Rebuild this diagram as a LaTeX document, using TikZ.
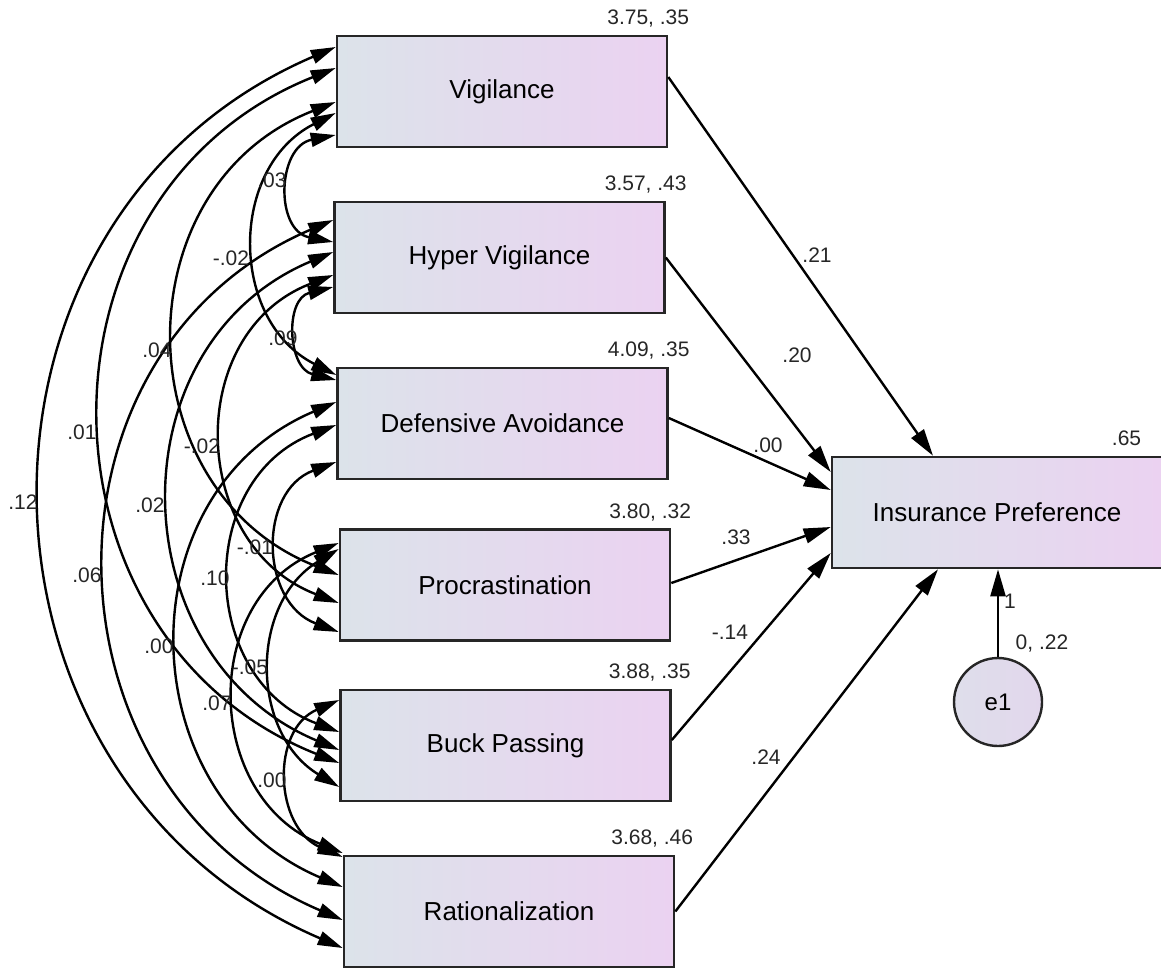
\documentclass[tikz,border=0pt]{standalone}
\usepackage{fontspec}
\setmainfont{Liberation Sans}
\usepackage{tikz}
\usetikzlibrary{arrows.meta}
\definecolor{boxleft}{HTML}{DCE3EA}
\definecolor{boxright}{HTML}{EBD2F1}
\definecolor{errfill}{HTML}{E2D7EC}

\tikzset{
  var/.style={draw=black!85, line width=2.6pt, minimum width=330pt, minimum height=111pt,
    inner sep=0pt, left color=boxleft, right color=boxright, font=\fontsize{26}{30}\selectfont},
  err/.style={circle, draw=black!85, line width=2.4pt, minimum size=88pt, inner sep=0pt,
    left color=boxleft!60!errfill, right color=errfill, font=\fontsize{24}{28}\selectfont},
  num/.style={inner sep=0pt, font=\fontsize{21}{24}\selectfont, text=black!85},
  regline/.style={line width=2.4pt, -{Triangle[length=27pt,width=15pt]}},
  cov/.style={line width=2.4pt, {Triangle[length=25pt,width=14pt]}-{Triangle[length=25pt,width=14pt]}},
}

\begin{document}
\begin{tikzpicture}[x=1pt, y=-1pt]
  \useasboundingbox (0,0) rectangle (1161,967);

  % Observed variables
  \node[var] (V) at (502,91.5) {Vigilance};
  \node[var] (HV) at (499.5,257.5) {Hyper Vigilance};
  \node[var] (DA) at (502.5,423.5) {Defensive Avoidance};
  \node[var] (P) at (505,585) {Procrastination};
  \node[var] (BP) at (505.5,745.5) {Buck Passing};
  \node[var] (R) at (509,911.5) {Rationalization};
  \node[var] (IP) at (997,512.5) {Insurance Preference};
  \node[err] (e1) at (998,702) {e1};

  % Means, variances
  \node[num, anchor=base east] (mV) at ([xshift=21pt,yshift=10pt]V.north east) {3.75, .35};
  \node[num, anchor=base east] (mHV) at ([xshift=21pt,yshift=10pt]HV.north east) {3.57, .43};
  \node[num, anchor=base east] (mDA) at ([xshift=21pt,yshift=10pt]DA.north east) {4.09, .35};
  \node[num, anchor=base east] (mP) at ([xshift=20pt,yshift=10pt]P.north east) {3.80, .32};
  \node[num, anchor=base east] (mBP) at ([xshift=19pt,yshift=10pt]BP.north east) {3.88, .35};
  \node[num, anchor=base east] (mR) at ([xshift=18pt,yshift=10pt]R.north east) {3.68, .46};
  \node[num, anchor=base east] (mIP) at ([xshift=-22pt,yshift=10pt]IP.north east) {.65};

  % Regression paths
  \draw[regline] ([yshift=14.5pt]V.east) -- ([xshift=-64pt]IP.north);
  \draw[regline] (HV.east) -- ([yshift=40.5pt]IP.west);
  \draw[regline] ([yshift=5.5pt]DA.east) -- ([yshift=22.5pt]IP.west);
  \draw[regline] ([yshift=2pt]P.east) -- ([yshift=-14.5pt]IP.west);
  \draw[regline] ([yshift=5.5pt]BP.east) -- ([yshift=-40.5pt]IP.west);
  \draw[regline] (R.east) -- ([xshift=-59pt]IP.south);
  \draw[regline] (e1) -- (e1 |- IP.south);

  \node[num] (w1) at (817,255) {.21};
  \node[num] (w2) at (797,355) {.20};
  \node[num] (w3) at (768,445) {.00};
  \node[num] (w4) at (736,537) {.33};
  \node[num] (w5) at (730,632) {-.14};
  \node[num] (w6) at (766,757) {.24};
  \node[num] (w7) at (1010,601) {1};
  \node[num] (ve1) at (1042,643) {0, .22};

  % Covariances
  \draw[cov] (V.west |- 0,135) .. controls +(-58.7,11.5) and +(-58.7,-11.5) .. (HV.west |- 0,242);
  \draw[cov] (V.west |- 0,113) .. controls +(-107.3,54.4) and +(-107.3,-54.4) .. (DA.west |- 0,375);
  \draw[cov] (V.west |- 0,102) .. controls +(-215.3,84.1) and +(-215.3,-84.1) .. (P.west |- 0,575);
  \draw[cov] (V.west |- 0,68) .. controls +(-314,125.3) and +(-314,-125.3) .. (BP.west |- 0,763);
  \draw[cov] (V.west |- 0,47) .. controls +(-396,169.8) and +(-396,-169.8) .. (R.west |- 0,948);
  \draw[cov] (HV.west |- 0,287) .. controls +(-48.7,11.9) and +(-48.7,-11.9) .. (DA.west |- 0,380);
  \draw[cov] (HV.west |- 0,275) .. controls +(-150,57.9) and +(-150,-57.9) .. (P.west |- 0,603);
  \draw[cov] (HV.west |- 0,252) .. controls +(-220.7,92.7) and +(-220.7,-92.7) .. (BP.west |- 0,750);
  \draw[cov] (HV.west |- 0,220) .. controls +(-308,131.7) and +(-308,-131.7) .. (R.west |- 0,920);
  \draw[cov] (DA.west |- 0,462) .. controls +(-78.7,29.4) and +(-78.7,-29.4) .. (P.west |- 0,632);
  \draw[cov] (DA.west |- 0,425) .. controls +(-141.3,53.5) and +(-141.3,-53.5) .. (BP.west |- 0,732);
  \draw[cov] (DA.west |- 0,402) .. controls +(-214,90.8) and +(-214,-90.8) .. (R.west |- 0,887);
  \draw[cov] (P.west |- 0,549) .. controls +(-89.3,54.2) and +(-89.3,-54.2) .. (BP.west |- 0,787);
  \draw[cov] (P.west |- 0,543) .. controls +(-139.3,56.4) and +(-139.3,-56.4) .. (R.west |- 0,853);
  \draw[cov] (BP.west |- 0,700) .. controls +(-68.7,29.8) and +(-68.7,-29.8) .. (R.west |- 0,857);

  \node[num] (c1) at (272,180) {.03};
  \node[num] (c2) at (231,258) {-.02};
  \node[num] (c3) at (157,350) {.04};
  \node[num] (c4) at (82,432) {.01};
  \node[num] (c5) at (23,502) {.12};
  \node[num] (c6) at (283,338) {.09};
  \node[num] (c7) at (202,446) {-.02};
  \node[num] (c8) at (150,505) {.02};
  \node[num] (c9) at (87,575) {.06};
  \node[num] (c10) at (255,547) {-.01};
  \node[num] (c11) at (215,578) {.10};
  \node[num] (c12) at (159,646) {.00};
  \node[num] (c13) at (250,667) {-.05};
  \node[num] (c14) at (217,703) {.07};
  \node[num] (c15) at (272,780) {.00};
\end{tikzpicture}
\end{document}
